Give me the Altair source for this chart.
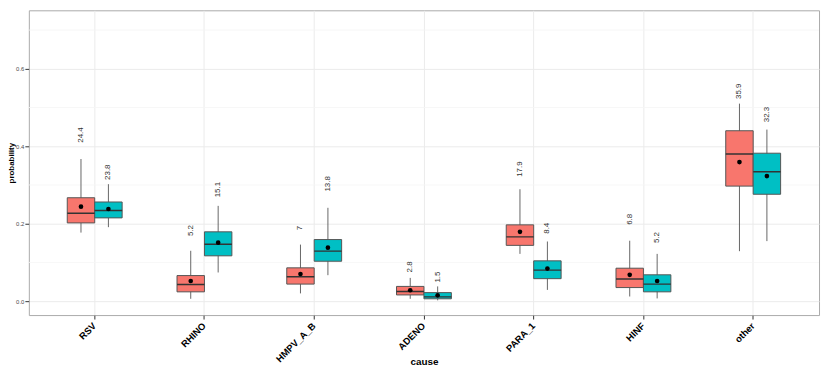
import altair as alt
import pandas as pd

causes = ["RSV", "RHINO", "HMPV_A_B", "ADENO", "PARA_1", "HINF", "other"]
groups = ["1", "2"]
colors = ["#F8766D", "#00BFC4"]

# per cause: [group 1, group 2]
lower = [[0.177, 0.191], [0.006, 0.074], [0.020, 0.067], [0.006, 0.002], [0.122, 0.029], [0.012, 0.007], [0.129, 0.155]]
q1 = [[0.202, 0.215], [0.024, 0.117], [0.044, 0.103], [0.016, 0.006], [0.144, 0.058], [0.035, 0.024], [0.297, 0.276]]
median = [[0.227, 0.234], [0.043, 0.147], [0.063, 0.129], [0.025, 0.011], [0.166, 0.080], [0.057, 0.044], [0.380, 0.334]]
q3 = [[0.267, 0.256], [0.066, 0.179], [0.086, 0.159], [0.038, 0.022], [0.197, 0.104], [0.085, 0.068], [0.440, 0.382]]
upper = [[0.367, 0.302], [0.130, 0.246], [0.146, 0.241], [0.060, 0.038], [0.289, 0.154], [0.156, 0.122], [0.510, 0.443]]
mean = [[0.244, 0.238], [0.052, 0.151], [0.070, 0.138], [0.028, 0.015], [0.179, 0.084], [0.068, 0.052], [0.359, 0.323]]
labels = [["24.4", "23.8"], ["5.2", "15.1"], ["7", "13.8"], ["2.8", "1.5"], ["17.9", "8.4"], ["6.8", "5.2"], ["35.9", "32.3"]]
label_y = [[0.409, 0.313], [0.168, 0.268], [0.183, 0.283], [0.074, 0.048], [0.321, 0.174], [0.197, 0.150], [0.522, 0.462]]

major_ticks = [0.0, 0.2, 0.4, 0.6]
minor_ticks = [0.1, 0.3, 0.5, 0.7]

rows = []
for i, c in enumerate(causes):
    for j, g in enumerate(groups):
        rows.append(dict(cause=c, group=g, lower=lower[i][j], q1=q1[i][j], median=median[i][j],
                         q3=q3[i][j], upper=upper[i][j], mean=mean[i][j], label=labels[i][j],
                         label_y=label_y[i][j]))
df = pd.DataFrame(rows)
minor_df = pd.DataFrame({"v": minor_ticks})

FONT = "Liberation Sans"
yscale = alt.Scale(domain=[-0.036, 0.751], nice=False, zero=False)

xenc = alt.X("cause:N", sort=causes, title="cause",
             scale=alt.Scale(paddingInner=0, paddingOuter=0.1),
             axis=alt.Axis(labelAngle=-45, labelAlign="right", labelBaseline="middle",
                           labelFontWeight="bold", labelFontSize=9.5, labelColor="#000",
                           bandPosition=0.5, grid=True, gridColor="#ebebeb",
                           tickSize=4, tickColor="#333", domain=False,
                           titleFontWeight="bold", titleFontSize=10,
                           titleY=47, titleBaseline="middle",
                           labelPadding=5))
xoff = alt.XOffset("group:N", sort=groups, scale=alt.Scale(paddingOuter=1, paddingInner=0))
yaxis = alt.Axis(values=major_ticks, format=".1f", grid=True, gridColor="#ebebeb",
                 labelFontSize=6, labelColor="#4d4d4d", tickSize=4, tickColor="#333",
                 domain=False, titleFontWeight="bold", titleFontSize=8,
                 titleX=-13.5, titleBaseline="bottom", labelPadding=1)

base = alt.Chart(df).encode(x=xenc, xOffset=xoff)

minor = alt.Chart(minor_df).mark_rule(color="#f5f5f5", strokeWidth=0.8).encode(
    y=alt.Y("v:Q", scale=yscale, axis=yaxis, title="probability"))

whisk = base.mark_rule(color="#555555", strokeWidth=0.9).encode(
    y=alt.Y("lower:Q", scale=yscale, axis=yaxis, title="probability"), y2="upper:Q")

box = base.mark_bar(stroke="#555555", strokeWidth=1).encode(
    y=alt.Y("q1:Q", scale=yscale), y2="q3:Q",
    color=alt.Color("group:N", scale=alt.Scale(domain=groups, range=colors), legend=None))

med = base.mark_bar(stroke="#333333", strokeWidth=1.4, fill="#333333").encode(
    y=alt.Y("median:Q", scale=yscale), y2="median:Q")

pts = base.mark_point(filled=True, color="black", size=22, opacity=1).encode(
    y=alt.Y("mean:Q", scale=yscale))

txt = base.mark_text(angle=270, align="left", baseline="middle", fontSize=8,
                     font=FONT, color="#333333").encode(
    y=alt.Y("label_y:Q", scale=yscale), text="label:N")

chart = alt.layer(minor, whisk, box, med, pts, txt).properties(
    width=796, height=307,
    autosize=alt.AutoSizeParams(type="none"),
    padding={"left": 21, "top": 1, "right": 4, "bottom": 54},
).configure(font=FONT).configure_view(stroke="#aaaaaa", strokeWidth=1).configure_axis(
    labelFont=FONT, titleFont=FONT)

chart.save("out.html", embed_options={"renderer": "svg", "actions": False})
